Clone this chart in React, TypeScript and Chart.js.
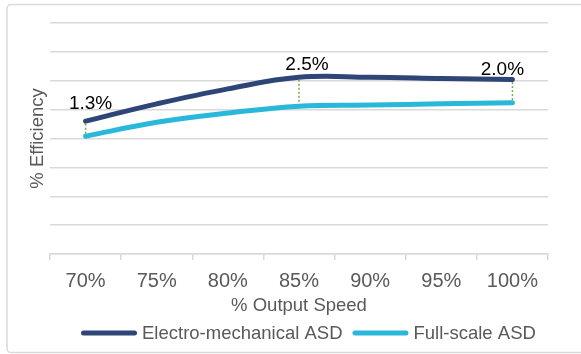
import React, { useEffect, useRef } from "react";
import { Chart, registerables } from "chart.js";

Chart.register(...registerables);

const speeds = ["70%", "75%", "80%", "85%", "90%", "95%", "100%"];
const electroMechanical = [91.5, 93.0, 94.3, 95.3, 95.3, 95.2, 95.1];
const fullScale = [90.2, 91.4, 92.2, 92.8, 92.9, 93.0, 93.1];
const gapIndices = [0, 3, 6];
const seriesNames = ["Electro-mechanical ASD", "Full-scale ASD"];

const FONT = "'Liberation Sans', Arial, sans-serif";
const NAVY = "#2E4577";
const CYAN = "#29B8DA";
const GREEN = "#70AD47";
const GRID = "#d9d9d9";
const TEXT = "#595959";

// label offsets (dx, dy above the upper line point) for the gap callouts
const gapLabelOffsets: [number, number][] = [
  [5, -12],
  [8, -7],
  [-10, -5],
];

const framePlugin = {
  id: "frame",
  beforeDraw(chart: any) {
    const { ctx } = chart;
    ctx.save();
    ctx.fillStyle = "#ffffff";
    ctx.fillRect(0, 0, chart.width, chart.height);
    ctx.strokeStyle = GRID;
    ctx.lineWidth = 1.5;
    ctx.beginPath();
    ctx.roundRect(7, 4.5, chart.width + 20, 348, 4);
    ctx.stroke();
    ctx.restore();
  },
};

const gapPlugin = {
  id: "gaps",
  afterDatasetsDraw(chart: any) {
    const { ctx } = chart;
    const top = chart.getDatasetMeta(0).data;
    const bottom = chart.getDatasetMeta(1).data;
    const upper = chart.data.datasets[0].data as number[];
    const lower = chart.data.datasets[1].data as number[];
    ctx.save();
    gapIndices.forEach((i, k) => {
      const a = top[i];
      const b = bottom[i];
      ctx.strokeStyle = GREEN;
      ctx.lineWidth = 1.5;
      ctx.setLineDash([2, 2]);
      ctx.beginPath();
      ctx.moveTo(a.x, a.y + 2.5);
      ctx.lineTo(b.x, b.y - 2.5);
      ctx.stroke();
      ctx.setLineDash([]);
      const [dx, dy] = gapLabelOffsets[k];
      ctx.fillStyle = "#000000";
      ctx.font = `19px ${FONT}`;
      ctx.textAlign = "center";
      ctx.textBaseline = "alphabetic";
      ctx.fillText(`${(upper[i] - lower[i]).toFixed(1)}%`, a.x + dx, a.y + dy);
    });
    ctx.restore();
  },
};

const legendPlugin = {
  id: "lineLegend",
  afterDraw(chart: any) {
    const { ctx } = chart;
    ctx.save();
    ctx.font = `18.5px ${FONT}`;
    ctx.textBaseline = "middle";
    ctx.textAlign = "left";
    let x = 81;
    const y = 333;
    chart.data.datasets.forEach((ds: any) => {
      ctx.strokeStyle = ds.borderColor;
      ctx.lineWidth = 5;
      ctx.lineCap = "round";
      ctx.beginPath();
      ctx.moveTo(x + 2.5, y);
      ctx.lineTo(x + 53.5, y);
      ctx.stroke();
      x += 61;
      ctx.fillStyle = TEXT;
      ctx.fillText(ds.label, x, y + 1);
      x += ctx.measureText(ds.label).width + 10;
    });
    ctx.restore();
  },
};

export default function App() {
  const canvasRef = useRef<HTMLCanvasElement | null>(null);

  useEffect(() => {
    if (!canvasRef.current) return;
    const chart = new Chart(canvasRef.current, {
      type: "line",
      data: {
        labels: speeds,
        datasets: [
          {
            label: seriesNames[0],
            data: electroMechanical,
            borderColor: NAVY,
            backgroundColor: NAVY,
            borderWidth: 5,
            borderCapStyle: "round",
            pointRadius: 0,
            tension: 0.4,
          },
          {
            label: seriesNames[1],
            data: fullScale,
            borderColor: CYAN,
            backgroundColor: CYAN,
            borderWidth: 5,
            borderCapStyle: "round",
            pointRadius: 0,
            tension: 0.4,
          },
        ],
      },
      options: {
        animation: false,
        responsive: true,
        maintainAspectRatio: false,
        layout: { padding: { left: 0, top: 23, right: 33, bottom: 36 } },
        plugins: {
          legend: { display: false },
          tooltip: { enabled: false },
        },
        scales: {
          x: {
            offset: true,
            grid: {
              offset: true,
              drawOnChartArea: false,
              drawTicks: true,
              tickLength: 6,
              color: GRID,
              lineWidth: 1.5,
            },
            border: { display: true, color: GRID, width: 1.5 },
            ticks: {
              color: TEXT,
              padding: 9,
              maxRotation: 0,
              font: { family: FONT, size: 20 },
            },
            title: {
              display: true,
              text: "% Output Speed",
              color: TEXT,
              font: { family: FONT, size: 18.5 },
              padding: { top: 0, bottom: 1.4 },
            },
            afterFit(scale: any) {
              scale.height = 64;
            },
          },
          y: {
            min: 80,
            max: 100,
            ticks: { display: false, stepSize: 2.5 },
            grid: { color: GRID, lineWidth: 1.5, drawTicks: false },
            border: { display: false },
            title: {
              display: true,
              text: "% Efficiency",
              color: TEXT,
              font: { family: FONT, size: 18.5 },
              padding: { top: 26.4, bottom: 0 },
            },
            afterFit(scale: any) {
              scale.width = 50;
            },
          },
        },
      },
      plugins: [framePlugin, gapPlugin, legendPlugin],
    });
    return () => chart.destroy();
  }, []);

  return (
    <div
      style={{
        position: "fixed",
        left: 0,
        top: 0,
        width: 581,
        height: 354,
        background: "#ffffff",
      }}
    >
      <canvas ref={canvasRef} />
    </div>
  );
}
